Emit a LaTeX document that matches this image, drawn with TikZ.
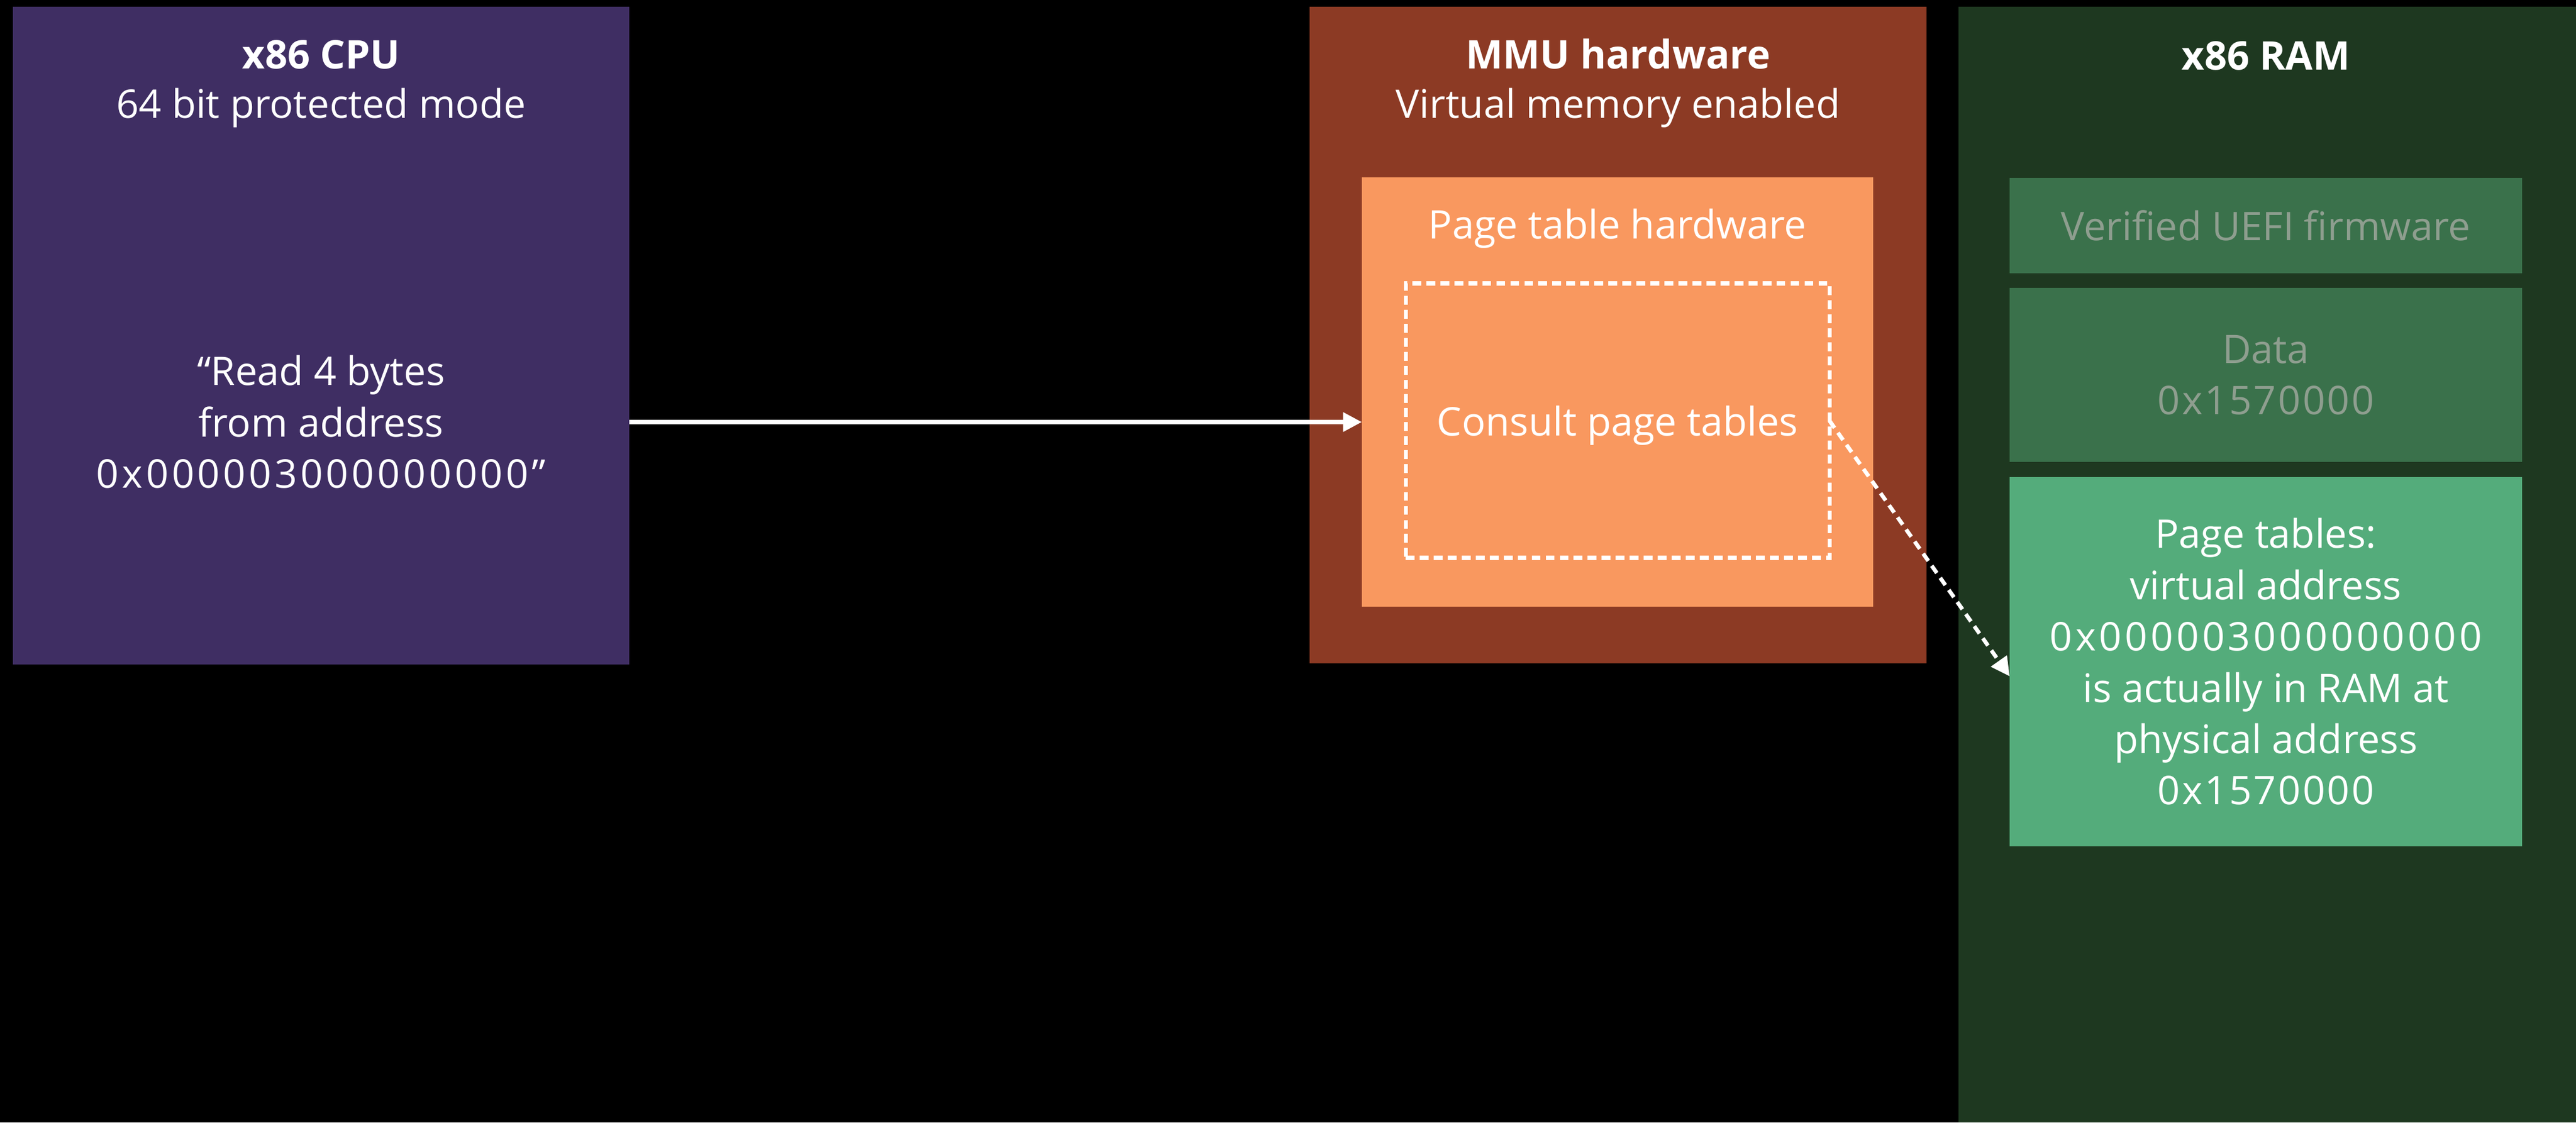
\documentclass[tikz,border=0pt]{standalone}
\usepackage{fontspec}
\setmainfont{Open Sans}
\usetikzlibrary{positioning, arrows.meta}

\definecolor{cpuback}{HTML}{3F2E63}
\definecolor{mmuback}{HTML}{8C3A24}
\definecolor{ptback}{HTML}{F9985F}
\definecolor{ramback}{HTML}{1E3820}
\definecolor{slotback}{HTML}{3A714B}
\definecolor{slottext}{HTML}{8E9E8F}
\definecolor{tableback}{HTML}{54AC7B}

\newcommand{\hexaddr}[1]{{\addfontfeature{LetterSpace=8}#1}}

\begin{document}
\begin{tikzpicture}[auto, node distance=0.26cm, line width=2pt,
  txt/.style={font=\fontsize{20}{26}\selectfont, text=white, align=center, inner sep=0pt, outer sep=0pt},
  head/.style={txt, font=\fontsize{20}{26}\selectfont\bfseries, anchor=base},
  sub/.style={txt, anchor=base},
  block/.style={rectangle, inner sep=0pt, outer sep=0pt, txt},
  slot node/.style={block, fill=slotback, text=slottext, minimum width=9.13cm},
  arr/.style={white, -{Triangle[length=9.5pt, width=9.5pt]}},
  dasharr/.style={arr, dash pattern=on 4.5pt off 3pt}]
  \useasboundingbox[fill=black] (0,0) rectangle (45.89,-20);

  % cpu
  \node[block, fill=cpuback, minimum width=10.98cm, minimum height=11.72cm] (cpu) at (5.72,-5.98) {};
  \node[head] (cputitle) at (5.72,-1.22) {x86 CPU};
  \node[sub] (cpumode) at (5.72,-2.10) {64 bit protected mode};
  \node[txt] (req) at (5.72,-7.52) {“Read 4 bytes\\from address\\\hexaddr{0x000003000000000”}};

  % mmu
  \node[block, fill=mmuback, minimum width=10.99cm, minimum height=11.70cm] (mmu) at (28.825,-5.97) {};
  \node[head] (mmutitle) at (28.825,-1.22) {MMU hardware};
  \node[sub] (mmumode) at (28.825,-2.10) {Virtual memory enabled};
  \node[block, fill=ptback, minimum width=9.11cm, minimum height=7.65cm] (pth) at (28.815,-6.985) {};
  \node[sub] (pthtitle) at (28.815,-4.25) {Page table hardware};
  \node[block, draw=white, dash pattern=on 4.5pt off 2.6pt, minimum width=7.55cm, minimum height=4.89cm] (consult) at (28.815,-7.495) {};
  \node[txt] (consulttext) at ([yshift=-0.09cm]consult.center) {Consult page tables};

  % ram
  \node[block, fill=ramback, minimum width=11cm, minimum height=19.88cm] (ram) at (40.39,-10.06) {};
  \node[head] (ramtitle) at (40.365,-1.24) {x86 RAM};
  \node[slot node, minimum height=1.70cm] (uefi) at (40.365,-4.02) {Verified UEFI firmware};
  \node[slot node, minimum height=3.10cm] (data) [below=of uefi] {Data\\{\addfontfeature{LetterSpace=5}0x1570000}};
  \node[block, fill=tableback, minimum width=9.13cm, minimum height=6.58cm] (tables) [below=0.27cm of data]
    {Page tables:\\virtual address\\\hexaddr{0x000003000000000}\\is actually in RAM at\\physical address\\{\addfontfeature{LetterSpace=5}0x1570000}};

  \draw[arr] (cpu.east |- req) -- (pth.west |- req);
  \draw[dasharr] (consult.east) -- ([yshift=-2.6mm]tables.west);
\end{tikzpicture}
\end{document}
